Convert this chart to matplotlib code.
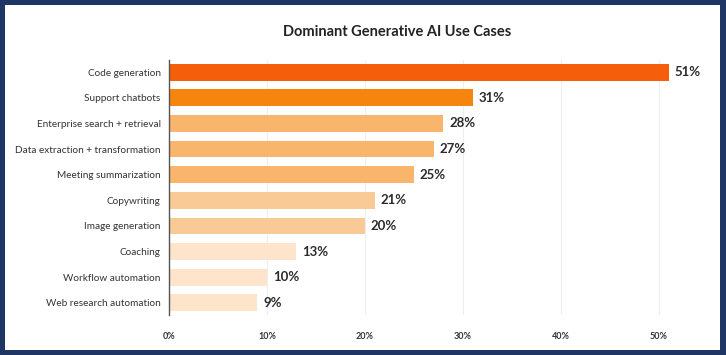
import matplotlib
matplotlib.use("Agg")
import matplotlib.pyplot as plt
from matplotlib.patches import Rectangle

CATEGORIAS = [
    "Code generation",
    "Support chatbots",
    "Enterprise search + retrieval",
    "Data extraction + transformation",
    "Meeting summarization",
    "Copywriting",
    "Image generation",
    "Coaching",
    "Workflow automation",
    "Web research automation",
]
VALORES = [51, 31, 28, 27, 25, 21, 20, 13, 10, 9]
CORES = [
    "#f55e0b", "#f5850d",
    "#f8b56b", "#f8b56b", "#f8b56b",
    "#f9ca95", "#f9ca95",
    "#fde4cb", "#fde4cb", "#fde4cb",
]
TICKS = [0, 10, 20, 30, 40, 50]

plt.rcParams["font.family"] = ["Lato", "DejaVu Sans"]

fig = plt.figure(figsize=(7.26, 3.55), dpi=100)
fig.patch.set_facecolor("#1f3664")
fig.add_artist(Rectangle((5 / 726, 1 - 350 / 355), 715 / 726, 345 / 355,
                         transform=fig.transFigure, facecolor="white",
                         edgecolor="none", zorder=-10))

ax = fig.add_axes([169 / 726, 1 - 315 / 355, 530 / 726, 255 / 355])
ax.set_facecolor("none")

ys = list(range(len(CATEGORIAS)))
ax.barh(ys, VALORES, height=0.66, color=CORES, zorder=3)
for y, v in zip(ys, VALORES):
    ax.text(v + 0.6, y, f"{v}%", va="center", ha="left", fontsize=9.5,
            fontweight="bold", color="#2b2b2b")

ax.set_xlim(0, 54.1)
ax.set_ylim(len(CATEGORIAS) - 0.53, -0.47)
ax.set_yticks(ys)
ax.set_yticklabels(CATEGORIAS, fontsize=7.2, color="#333333")
ax.set_xticks(TICKS)
ax.set_xticklabels([f"{t}%" for t in TICKS], fontsize=6.5, fontweight="bold",
                   color="#333333")
ax.tick_params(axis="both", length=0)
ax.tick_params(axis="y", pad=6)
ax.tick_params(axis="x", pad=12)

for t in TICKS[1:]:
    ax.axvline(t, color="#eeeeee", linewidth=0.8, zorder=1)
for s in ("top", "right", "bottom"):
    ax.spines[s].set_visible(False)
ax.spines["left"].set_color("#555555")
ax.spines["left"].set_linewidth(1.0)
ax.spines["left"].set_zorder(4)

fig.text(397 / 726, 1 - 32 / 355, "Dominant Generative AI Use Cases",
         ha="center", va="center", fontsize=10.5, fontweight="bold", color="#222222")

fig.savefig("out.png", dpi=100, facecolor=fig.get_facecolor())
